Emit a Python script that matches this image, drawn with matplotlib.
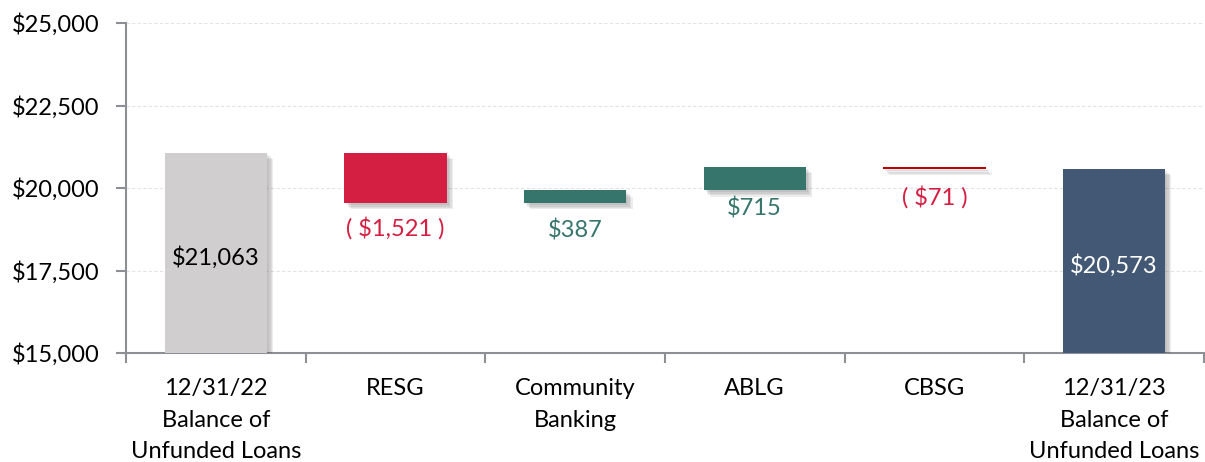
import numpy as np
import matplotlib
matplotlib.use("Agg")
import matplotlib.pyplot as plt
import matplotlib.patheffects as pe
from matplotlib.ticker import FuncFormatter, MultipleLocator

plt.rcParams['font.family'] = ['Lato', 'DejaVu Sans']

# data
categories = ["12/31/22\nBalance of\nUnfunded Loans", "RESG", "Community\nBanking",
              "ABLG", "CBSG", "12/31/23\nBalance of\nUnfunded Loans"]
start_total = 21063
changes = [-1521, 387, 715, -71]
end_total = 20573

# colours
c_start = "#D0CECE"
c_end = "#425875"
c_up = "#35756C"
c_down = "#D51F42"
c_down_small = "#C00000"

# build waterfall
bottoms = [0]
heights = [start_total]
colors = [c_start]
running = start_total
for ch in changes:
    if ch >= 0:
        bottoms.append(running)
        heights.append(ch)
        colors.append(c_up)
    else:
        bottoms.append(running + ch)
        heights.append(-ch)
        colors.append(c_down if ch < -100 else c_down_small)
    running += ch
bottoms.append(0)
heights.append(end_total)
colors.append(c_end)

fig = plt.figure(figsize=(12.05, 4.62), dpi=100)
ax = fig.add_axes([0.1046, 0.2359, 0.8944, 0.7143])

x = np.arange(len(categories))
# soft drop shadow: a few stacked faint offset copies
shadow = [pe.SimplePatchShadow(offset=(d, -d), shadow_rgbFace="#404040", alpha=0.09)
          for d in (4.5, 3.5, 2.5, 1.5)] + [pe.Normal()]
bars = ax.bar(x, heights, bottom=bottoms, width=0.57, color=colors, zorder=3)
for b in bars:
    b.set_path_effects(shadow)

ax.set_ylim(15000, 25000)
ax.set_xlim(-0.5, len(categories) - 0.5)
ax.yaxis.set_major_locator(MultipleLocator(2500))
ax.yaxis.set_major_formatter(FuncFormatter(lambda v, p: f"${v:,.0f}"))
ax.grid(axis="y", color="#E3E3E3", linestyle=(0, (3, 2)), linewidth=0.8, zorder=0)

for s in ["top", "right"]:
    ax.spines[s].set_visible(False)
for s in ["left", "bottom"]:
    ax.spines[s].set_color("#8C8F94")
    ax.spines[s].set_linewidth(1.5)

ax.set_xticks(x)
ax.set_xticklabels(categories, fontsize=17, linespacing=1.62)
ax.set_xticks(np.arange(-0.5, len(categories), 1), minor=True)
ax.tick_params(axis="x", which="major", length=0, pad=18)
ax.tick_params(axis="x", which="minor", length=7, width=1.5, color="#8C8F94")
ax.tick_params(axis="y", length=7, width=1.5, color="#8C8F94", labelsize=17, pad=12)

# labels on totals (inside, centred)
ax.annotate(f"${start_total:,}", (0, (15000 + start_total) / 2), xytext=(0, -3),
            textcoords="offset points", ha="center", va="center",
            fontsize=17, color="black", zorder=4)
ax.annotate(f"${end_total:,}", (len(categories) - 1, (15000 + end_total) / 2), xytext=(0, -3),
            textcoords="offset points", ha="center", va="center",
            fontsize=17, color="white", zorder=4)

# labels under change bars
offsets = [-10, -12, -5, -12]
for i, ch in enumerate(changes):
    xi = i + 1
    lbl = f"( ${-ch:,} )" if ch < 0 else f"${ch:,}"
    col = c_down if ch < 0 else c_up
    ax.annotate(lbl, (xi, bottoms[xi]), xytext=(0, offsets[i]), textcoords="offset points",
                ha="center", va="top", fontsize=17, color=col, zorder=4)

fig.savefig("out.png", dpi=100)
